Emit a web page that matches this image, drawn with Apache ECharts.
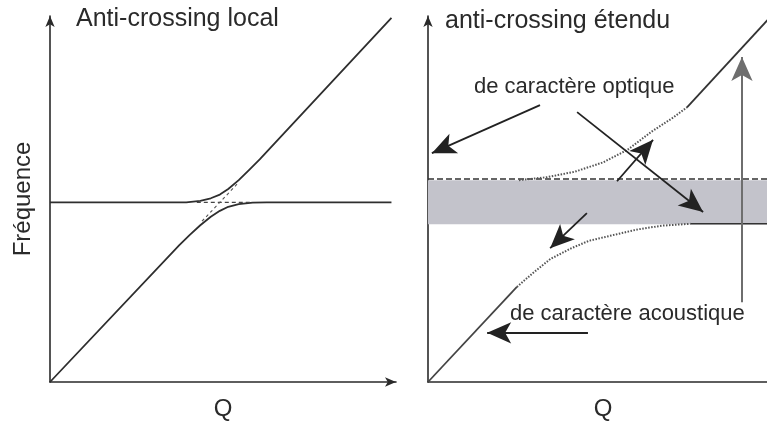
<!DOCTYPE html>
<html><head><meta charset="utf-8">
<script src="https://cdn.jsdelivr.net/npm/echarts@6/dist/echarts.min.js"></script>
<style>html,body{margin:0;padding:0;background:#fff}#c{width:767px;height:423px}</style>
</head><body><div id="c"></div>
<script>
// ---- data (Q, fréquence) in arbitrary units ----
const titleLeft = 'Anti-crossing local';
const titleRight = 'anti-crossing étendu';
const xName = 'Q';
const yName = 'Fréquence';
const labelOptique = 'de caractère optique';
const labelMelange = 'mélangé';
const labelAcoustique = 'de caractère acoustique';

// left panel: local anti-crossing
const leftUpper = [[0,4.86],[3.9,4.86],[4.3,4.9],[4.6,4.97],[4.86,5.07],[5.1,5.22],[5.4,5.46],[5.7,5.74],[6.0,6.02],[9.77,9.85]];
const leftLower = [[0,0],[3.7,3.7],[4.0,3.98],[4.3,4.24],[4.6,4.47],[4.86,4.63],[5.1,4.74],[5.4,4.81],[5.8,4.85],[6.2,4.86],[9.77,4.86]];
const leftDashH = [[4.2,4.86],[5.8,4.86]];
const leftDashD = [[4.35,4.35],[5.35,5.35]];

// right panel: extended anti-crossing
const rightLowDiag = [[0,0],[2.54,2.57]];
const rightLowCurve = [[2.54,2.57],[3.0,2.95],[3.5,3.33],[4.1,3.62],[4.6,3.82],[5.5,4.02],[6.0,4.13],[6.7,4.23],[7.5,4.28]];
const rightLowFlat = [[7.5,4.28],[10,4.28]];
const rightUpCurve = [[2.6,5.46],[3.4,5.54],[4.2,5.69],[5.0,5.94],[5.7,6.28],[6.4,6.78],[7.0,7.15],[7.4,7.43]];
const rightUpDiag = [[7.4,7.43],[9.75,9.84]];
const rightDash = [[0,5.49],[10,5.49]];
const bandRange = [4.27, 5.46];
// arrows: [from, to]
const arrowsBlack = [
  [[3.2,7.49],[0.11,6.19]],
  [[4.26,7.30],[7.86,4.6]],
  [[5.4,5.43],[6.43,6.55]],
  [[4.54,4.57],[3.49,3.62]],
  [[4.57,1.33],[1.69,1.33]]
];
const arrowsGray = [
  [[8.97,2.16],[8.97,8.79]]
];

const chart = echarts.init(document.getElementById('c'), null, {renderer:'canvas'});
const FONT = 'Liberation Sans';
const INK = '#2a2a2a';

function axisCommon(name, nameGap, rotate) {
  return {
    type:'value', min:0, max:9.9,
    name: name, nameLocation:'middle', nameGap: nameGap, nameRotate: rotate,
    nameTextStyle:{fontFamily:FONT, fontSize:24, color:INK},
    axisLine:{show:true, symbol:['none','arrow'], symbolSize:[7,11], lineStyle:{color:INK, width:1.6}},
    axisTick:{show:false}, axisLabel:{show:false}, splitLine:{show:false}
  };
}
function xAx(idx, name) { const a = axisCommon(name, 15, 0); a.gridIndex = idx; if (idx===1){a.max=10;} return a; }
function yAx(idx, name) { const a = axisCommon(name, 15, 90); a.gridIndex = idx; return a; }

function lineS(data, xi, style, color, width, z) {
  return {type:'line', data:data, xAxisIndex:xi, yAxisIndex:xi, showSymbol:false, silent:true,
    animation:false, z: z||3,
    lineStyle:{color:color||INK, width:width||1.5, type:style||'solid'}};
}
function arrowLines(list) {
  return list.map(a => [{coord:a[0]},{coord:a[1]}]);
}

const option = {
  animation:false,
  grid:[
    {left:50, top:16, width:346, height:366, containLabel:false, outerBoundsMode:'none'},
    {left:428, top:16, width:350, height:366, containLabel:false, outerBoundsMode:'none'}
  ],
  xAxis:[xAx(0, xName), xAx(1, xName)],
  yAxis:[yAx(0, yName), yAx(1, '')],
  series:[
    lineS(leftUpper, 0, 'solid', '#2e2e2e', 1.8),
    lineS(leftLower, 0, 'solid', '#2e2e2e', 1.8),
    lineS(leftDashH, 0, [4,3], '#444', 1.3),
    lineS(leftDashD, 0, [3,3], '#555', 1.1),
    Object.assign(lineS(rightDash, 1, [6,3], '#333', 1.6, 2), {
      markArea:{silent:true, itemStyle:{color:'#c3c3cb'}, data:[[{yAxis:bandRange[0]},{yAxis:bandRange[1]}]]}
    }),
    lineS(rightLowDiag, 1, 'solid', '#444', 1.8),
    lineS(rightLowCurve, 1, [1.5,1.5], '#555', 2),
    lineS(rightLowFlat, 1, 'solid', '#333', 1.6),
    lineS(rightUpCurve, 1, [1.5,1.5], '#555', 2),
    lineS(rightUpDiag, 1, 'solid', '#333', 1.8),
    Object.assign(lineS([], 1, 'solid', INK, 1.5, 5), {
      markLine:{silent:true, symbol:['none','arrow'], symbolSize:[16,24], animation:false,
        label:{show:false}, lineStyle:{color:'#222', width:1.8, type:'solid'},
        data: arrowLines(arrowsBlack)}
    }),
    Object.assign(lineS([], 1, 'solid', '#777', 1.5, 4), {
      markLine:{silent:true, symbol:['none','arrow'], symbolSize:[16,24], animation:false,
        label:{show:false}, lineStyle:{color:'#6e6e6e', width:2, type:'solid'},
        data: arrowLines(arrowsGray)}
    })
  ],
  graphic:[
    {type:'text', left:76, top:7, style:{text:titleLeft, font:'25px "Liberation Sans"', fill:INK}},
    {type:'text', left:445, top:9, style:{text:titleRight, font:'25px "Liberation Sans"', fill:INK}},
    {type:'text', left:474, top:76, style:{text:labelOptique, font:'22px "Liberation Sans"', fill:INK}},
    {type:'text', left:578, top:190, style:{text:labelMelange, font:'22px "Liberation Sans"', fill:INK}},
    {type:'text', left:510, top:303, style:{text:labelAcoustique, font:'22px "Liberation Sans"', fill:INK}}
  ]
};
chart.setOption(option);
</script></body></html>
